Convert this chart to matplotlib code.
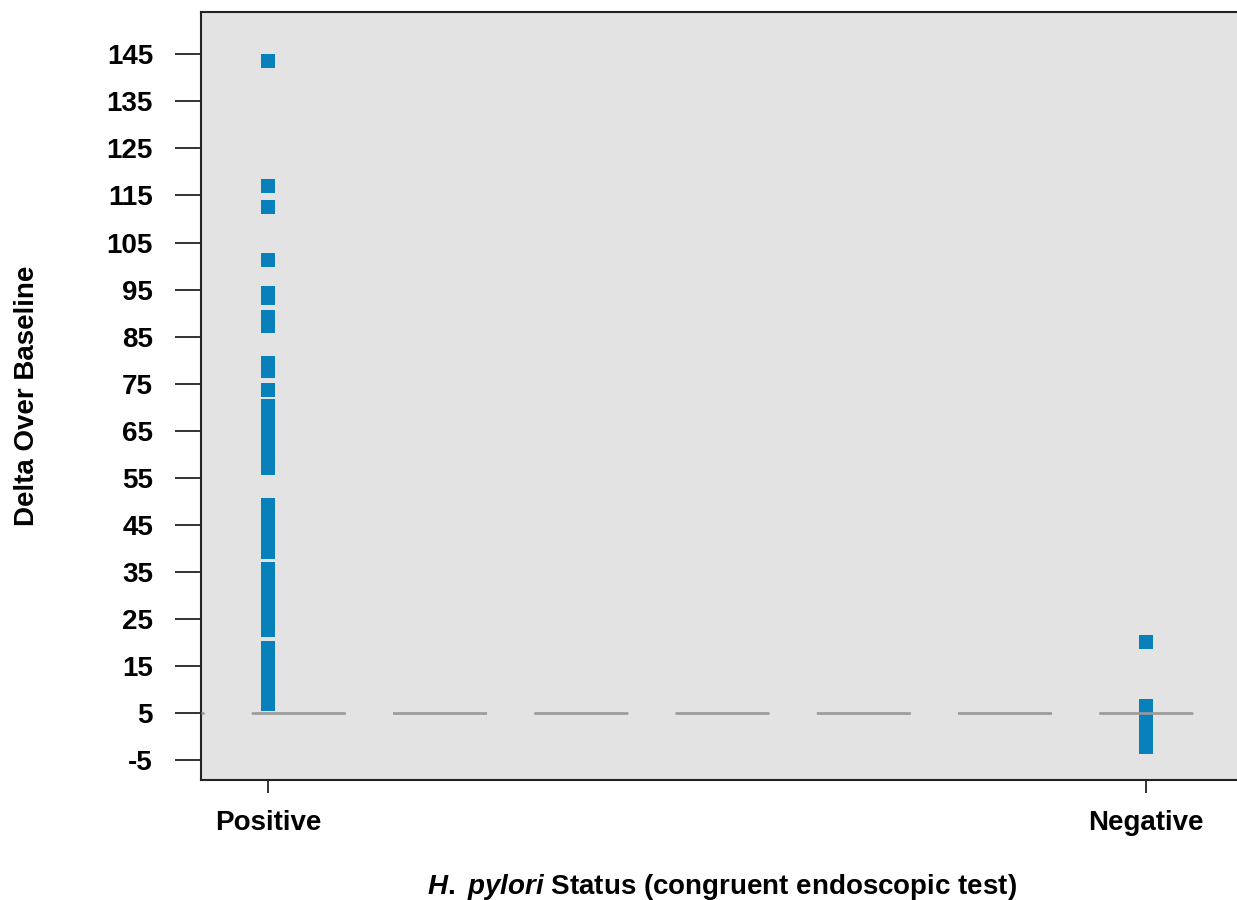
import matplotlib
matplotlib.use("Agg")
import matplotlib.pyplot as plt
import numpy as np

plt.rcParams['font.family'] = ['Liberation Sans', 'DejaVu Sans']
plt.rcParams['font.weight'] = 'bold'
plt.rcParams['mathtext.fontset'] = 'custom'
plt.rcParams['mathtext.it'] = 'Liberation Sans:italic:bold'
plt.rcParams['mathtext.rm'] = 'Liberation Sans:bold'
plt.rcParams['lines.scale_dashes'] = False

# Groups and measured deltas over baseline
categories = ["Positive", "Negative"]
positive_values = [
    143.5, 117.0, 112.5, 101.2, 94.3, 93.2, 89.1, 87.3, 79.4, 77.6, 73.6,
    70.2, 69.2, 68.3, 67.1, 66.0, 65.2, 64.1, 63.0, 62.2, 61.1, 60.0, 59.1,
    58.0, 57.1,
    49.1, 48.0, 47.2, 46.1, 45.0, 44.1, 43.2, 42.0, 41.1, 40.2, 39.2,
    35.7, 34.6, 33.5, 32.4, 31.2, 30.1, 29.0, 28.2, 27.1, 26.0, 25.0, 24.1,
    23.4, 22.6,
    18.9, 17.8, 16.6, 15.5, 14.4, 13.3, 12.2, 11.1, 10.0, 9.0, 8.0, 7.0,
]
negative_values = [20.1, 6.4, 5.2, 4.0, 2.8, 1.6, 0.5, -0.6, -1.4, -2.2]
baseline = 5
y_ticks = list(range(-5, 146, 10))

fig = plt.figure(figsize=(12.37, 9), dpi=100)
ax = fig.add_axes([201 / 1237, 120 / 900, 1041 / 1237, 768 / 900])
ax.set_facecolor('#e3e3e3')

marker_color = '#0880bb'
for i, vals in enumerate([positive_values, negative_values]):
    ax.plot(np.full(len(vals), i), vals, linestyle='none', marker='s',
            markersize=10.3, markerfacecolor=marker_color,
            markeredgewidth=0, zorder=3)

ax.axhline(baseline, color='#999999', linewidth=1.9, zorder=4,
           linestyle=(65.5, (67.7, 34.0)))

ax.set_xlim(-0.0763, 1.109)
ax.set_ylim(-9.25, 154.0)
ax.set_xticks(range(len(categories)))
ax.set_xticklabels(categories, fontsize=20, fontweight='bold')
ax.set_yticks(y_ticks)
ax.set_yticklabels([str(t) for t in y_ticks], fontsize=20, fontweight='bold')

ax.tick_params(axis='y', length=18.5, width=1.3, pad=16, color='#222222')
ax.tick_params(axis='x', length=9.4, width=1.3, pad=12, color='#222222')

for side in ['left', 'bottom', 'top', 'right']:
    ax.spines[side].set_linewidth(1.5)
    ax.spines[side].set_color('#222222')

ax.set_ylabel('Delta Over Baseline', fontsize=20, fontweight='bold', labelpad=48)
ax.set_xlabel(r'$\it{H.}$ $\it{pylori}$ Status (congruent endoscopic test)',
              fontsize=20, fontweight='bold', labelpad=26)

fig.savefig('out.png', dpi=100, facecolor='white')
